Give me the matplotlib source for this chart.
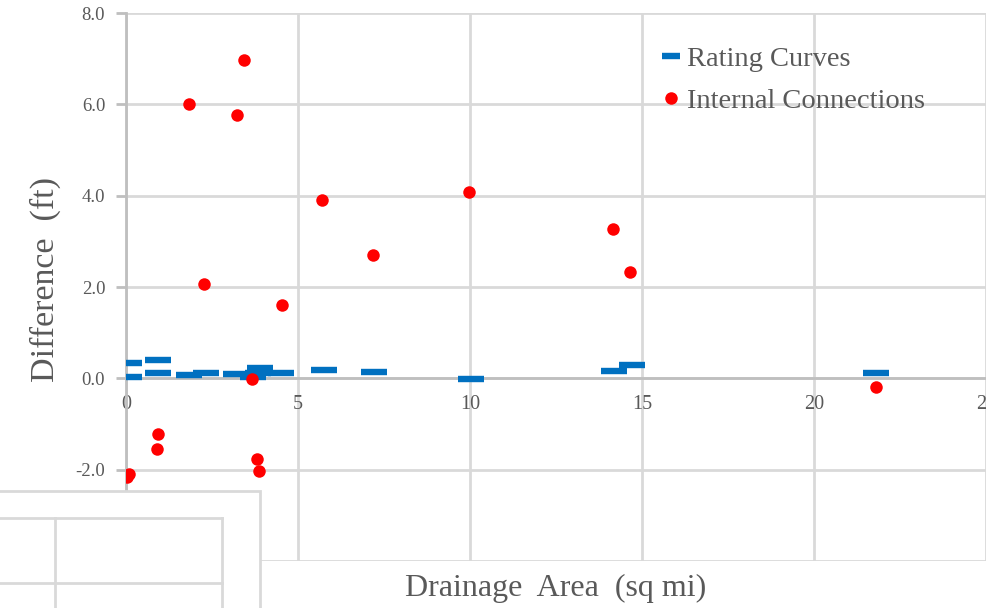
import matplotlib
matplotlib.use("Agg")
import matplotlib.pyplot as plt
from matplotlib.lines import Line2D
from matplotlib.patches import Rectangle

# Rating curve differences (drainage area in sq mi, difference in ft)
rating_area = [0.10, 0.10, 0.93, 0.93, 1.83, 2.33, 3.20, 3.70, 3.90, 3.85,
               4.50, 5.77, 7.20, 10.03, 14.20, 14.70, 21.80]
rating_diff = [0.33, 0.03, 0.41, 0.12, 0.07, 0.12, 0.09, 0.03, 0.22, 0.12,
               0.12, 0.19, 0.14, -0.01, 0.16, 0.30, 0.12]

# Internal connection differences
internal_area = [1.82, 3.43, 3.22, 2.26, 4.53, 5.71, 7.18, 9.97, 14.16, 14.65,
                 21.79, 3.67, 0.92, 0.89, 3.80, 3.88, 0.04, 0.08]
internal_diff = [6.00, 6.97, 5.76, 2.07, 1.61, 3.91, 2.69, 4.07, 3.26, 2.32,
                 -0.20, -0.02, -1.21, -1.54, -1.77, -2.03, -2.17, -2.10]

x_ticks = [0, 5, 10, 15, 20, 25]
y_ticks = [-4, -2, 0, 2, 4, 6, 8]

W, H = 986, 608
fig = plt.figure(figsize=(W / 100, H / 100), dpi=100)
ax = fig.add_axes([126 / W, 1 - 561 / H, (986 - 126) / W, (561 - 13) / H])

serif = ["Liberation Serif", "DejaVu Serif"]
text_col = "#595959"
grid_col = "#d9d9d9"
axis_col = "#bfbfbf"

ax.plot(rating_area, rating_diff, linestyle="none", marker="_", markersize=19,
        markeredgewidth=4.6, color="#0070C0", label="Rating Curves", zorder=3)
ax.plot(internal_area, internal_diff, linestyle="none", marker="o", markersize=9,
        markeredgewidth=0, color="#FF0000", label="Internal Connections", zorder=4)

ax.set_xlim(0, 25)
ax.set_ylim(-4, 8)
ax.set_xticks(x_ticks)
ax.set_yticks(y_ticks)
ax.set_yticklabels([f"{v:.1f}" if v > -4 else "" for v in y_ticks])
ax.grid(True, color=grid_col, linewidth=2, zorder=0)
ax.set_axisbelow(True)

for side in ("top", "right"):
    ax.spines[side].set_visible(False)
ax.spines["bottom"].set_position(("data", 0))
ax.spines["bottom"].set_color(axis_col)
ax.spines["bottom"].set_linewidth(2)
ax.spines["left"].set_color(axis_col)
ax.spines["left"].set_linewidth(2)

ax.tick_params(axis="x", length=0, pad=12, labelsize=14.5, labelcolor=text_col)
ax.tick_params(axis="y", length=7, width=2, color=axis_col, pad=8,
               labelsize=13.5, labelcolor=text_col)
for lab in ax.get_xticklabels() + ax.get_yticklabels():
    lab.set_fontfamily(serif)

fig.text(556 / W, 1 - 588 / H, "Drainage  Area  (sq mi)", ha="center", va="center",
         fontsize=23, color=text_col, family=serif)
fig.text(45 / W, 1 - 280 / H, "Difference  (ft)", ha="center", va="center",
         rotation=90, fontsize=24.5, color=text_col, family=serif)

handles = [
    Line2D([], [], linestyle="none", marker="_", markersize=13, markeredgewidth=4.6,
           color="#0070C0"),
    Line2D([], [], linestyle="none", marker="o", markersize=9, markeredgewidth=0,
           color="#FF0000"),
]
leg = ax.legend(handles, ["Rating Curves", "Internal Connections"],
                loc="upper left", bbox_to_anchor=(650 / W, 1 - 35 / H),
                bbox_transform=fig.transFigure, frameon=False,
                prop={"family": serif, "size": 20.5}, handlelength=0.7,
                handletextpad=0.2, labelspacing=0.55, borderaxespad=0)
for t in leg.get_texts():
    t.set_color(text_col)

# Frame of a neighbouring panel overlapping the lower-left corner
def fx(px):
    return px / W

def fy(py):
    return 1 - py / H

fig.add_artist(Rectangle((fx(-5), fy(615)), fx(265), fy(491) - fy(615),
                         transform=fig.transFigure, facecolor="white",
                         edgecolor=grid_col, linewidth=2, zorder=10))
for xs, ys in [([-5, 222], [518, 518]), ([-5, 222], [583, 583]),
               ([55, 55], [518, 615]), ([222, 222], [518, 615])]:
    fig.add_artist(Line2D([fx(v) for v in xs], [fy(v) for v in ys],
                          transform=fig.transFigure, color=grid_col,
                          linewidth=2, zorder=11))

fig.savefig("out.png", dpi=100)
